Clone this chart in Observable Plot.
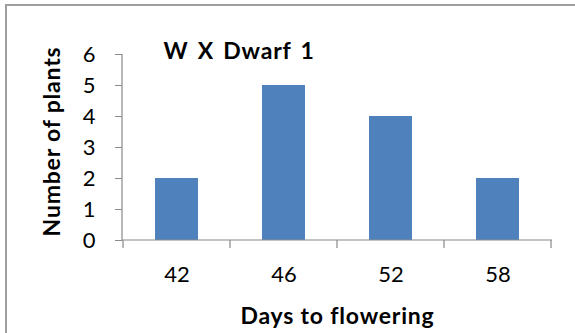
<!DOCTYPE html>
<html>
<head>
<meta charset="utf-8">
<script src="https://cdn.jsdelivr.net/npm/d3@7"></script>
<script src="https://cdn.jsdelivr.net/npm/@observablehq/plot@0.6"></script>
<style>
  html, body { margin: 0; padding: 0; background: #fff; overflow: hidden; }
  #chart { position: relative; width: 575px; height: 333px; overflow: hidden; }
  #chart svg { display: block; }
  /* chart-area outline (left and top edges are visible) */
  .edge {
    position: absolute; left: 5px; top: 4px; width: 640px; height: 420px;
    border-left: 2px solid #9d9d9d; border-top: 2px solid #9d9d9d;
    pointer-events: none;
  }
</style>
</head>
<body>
<div id="chart"></div>
<script>
// Days to flowering (categories) and number of plants per category
const days = ["42", "46", "52", "58"];
const plants = [2, 5, 4, 2];
const yTicks = [0, 1, 2, 3, 4, 5, 6];
const chartTitle = "W X Dwarf 1";
const xLabel = "Days to flowering";
const yLabel = "Number of plants";

const data = days.map((day, i) => ({day, count: plants[i]}));

const axisGray = "#898989";
const barBlue = "#4F81BD";
const font = "Lato, 'Open Sans', sans-serif";

// Axis lines plus tick marks on the category boundaries of the x axis
function axisFrame(index, scales) {
  const x = scales.x, y = scales.y;
  const [x0, x1] = x.range();
  const y0 = y(0), yTop = y(d3.max(yTicks));
  const step = x.step(), half = x.bandwidth() / 2;
  const edges = days.map(d => x(d) + half - step / 2);
  edges.push(x(days[days.length - 1]) + half + step / 2);
  const g = d3.create("svg:g").attr("stroke", axisGray).attr("stroke-width", 1.2);
  g.append("line").attr("x1", x0).attr("x2", x1).attr("y1", y0).attr("y2", y0);
  g.append("line").attr("x1", x0).attr("x2", x0).attr("y1", yTop).attr("y2", y0);
  g.selectAll(".edge-tick").data(edges).join("line")
    .attr("class", "edge-tick")
    .attr("x1", d => d).attr("x2", d => d)
    .attr("y1", y0).attr("y2", y0 + 8);
  return g.node();
}

const chart = Plot.plot({
  width: 575,
  height: 333,
  marginLeft: 122,
  marginRight: 23,
  marginTop: 54,
  marginBottom: 93,
  style: {fontFamily: font, fontSize: "22px", color: "#000", background: "#fff"},
  x: {domain: days, paddingInner: 0.6, paddingOuter: 0.3, label: null},
  y: {domain: [0, 6], label: null},
  marks: [
    Plot.barY(data, {x: "day", y: "count", fill: barBlue}),
    axisFrame,
    Plot.axisY({ticks: yTicks, tickSize: 7, tickPadding: 20, stroke: axisGray,
      fill: "#000", fontSize: 22, label: null, tickFormat: d => String(d)}),
    Plot.axisX({tickSize: 0, tickPadding: 26, fill: "#000", fontSize: 22, label: null}),
    Plot.text([chartTitle], {frameAnchor: "top-left", dx: 41, dy: -12,
      textAnchor: "start", lineAnchor: "top", fontWeight: "bold", fontSize: 23, fill: "#000"}),
    Plot.text([xLabel], {frameAnchor: "bottom", dy: 67, lineAnchor: "top",
      textAnchor: "middle", fontWeight: "bold", fontSize: 23, fill: "#000"}),
    Plot.text([yLabel], {frameAnchor: "left", rotate: -90, dx: -79, dy: -6,
      textAnchor: "middle", lineAnchor: "top", fontWeight: "bold", fontSize: 23, fill: "#000"})
  ]
});

// bold labels are set a little wider, like the original chart lettering
d3.select(chart).selectAll('g[font-weight="bold"] text')
  .style("letter-spacing", "0.8px");
d3.select(chart).selectAll('g[font-weight="bold"] text')
  .filter(function () { return this.textContent === chartTitle; })
  .style("word-spacing", "3px");

const host = document.getElementById("chart");
host.appendChild(chart);
const edge = document.createElement("div");
edge.className = "edge";
host.appendChild(edge);
</script>
</body>
</html>
